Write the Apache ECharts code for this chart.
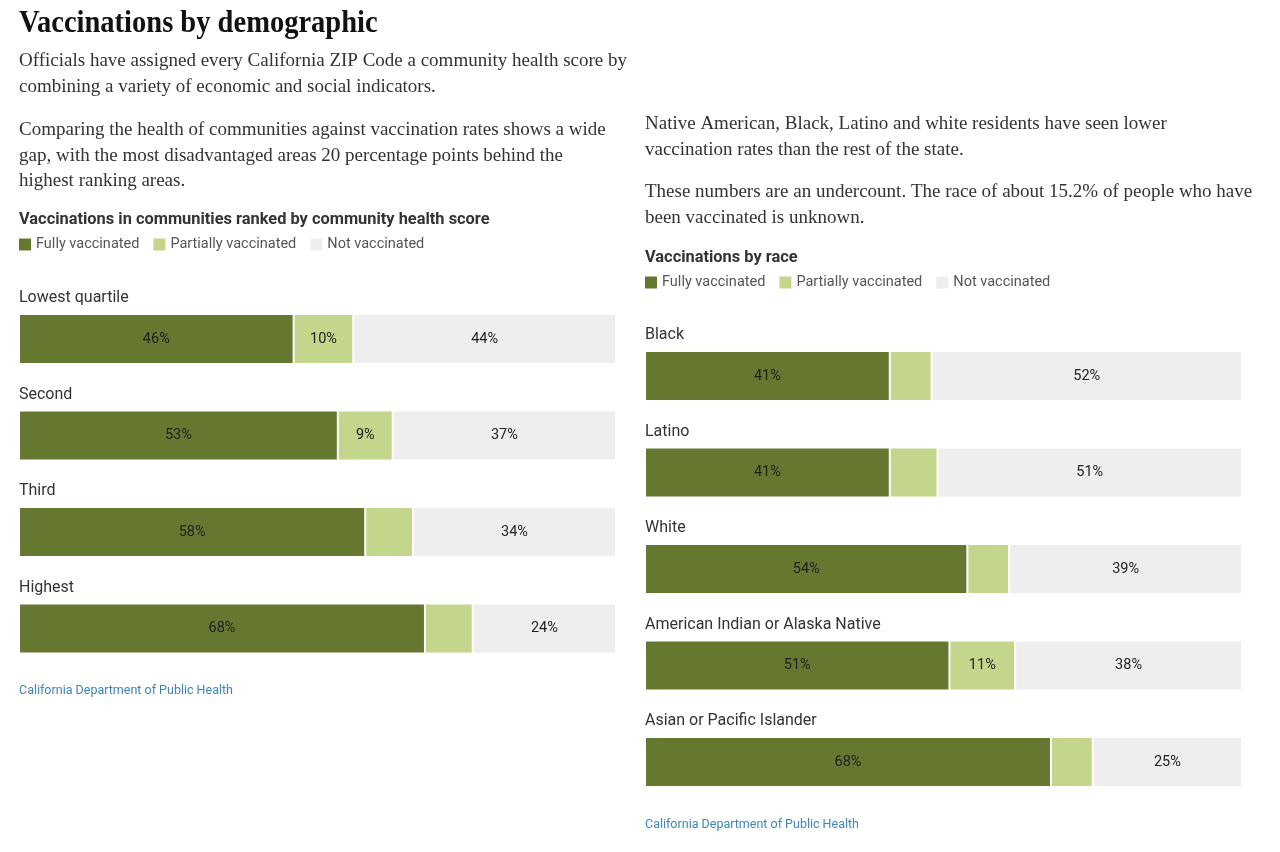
<!DOCTYPE html>
<html>
<head>
<meta charset="utf-8">
<title>Vaccinations by demographic</title>
<script src="https://cdn.jsdelivr.net/npm/echarts@6/dist/echarts.min.js"></script>
<style>
  html, body { margin: 0; padding: 0; background: #fff; }
  #main { width: 1280px; height: 852px; }
</style>
</head>
<body>
<div id="main"></div>
<script>
// data
var healthCats = ['Lowest quartile', 'Second', 'Third', 'Highest'];
var healthFully = [46, 53.4, 58, 68];
var healthPartial = [10, 9.2, 8, 8];
var healthNot = [44, 37.4, 34, 24];

var raceCats = ['Black', 'Latino', 'White', 'American Indian or Alaska Native', 'Asian or Pacific Islander'];
var raceFully = [41, 41, 54, 51, 68];
var racePartial = [7, 8, 7, 11, 7];
var raceNot = [52, 51, 39, 38, 25];

var groupNames = ['Fully vaccinated', 'Partially vaccinated', 'Not vaccinated'];
var groupColors = ['#66772f', '#c3d68b', '#eeeeee'];

window.onload = function () {
  var myChart = echarts.init(document.getElementById('main'));

  var serif = '"Liberation Serif", "DejaVu Serif", serif';
  var sans = 'Roboto, "Liberation Sans", sans-serif';

  function txt(str, x, y, size, color, weight, family, sx) {
    return {
      type: 'text', x: x, y: y + 2, scaleX: sx || 1, silent: true,
      style: {
        text: str, fill: color,
        font: (weight || 'normal') + ' ' + size + 'px ' + (family || serif),
        verticalAlign: 'middle', textVerticalAlign: 'middle'
      }
    };
  }

  // show label only when the segment is wide enough
  function pct(p) { return p.value >= 9 ? Math.round(p.value) + '%' : ''; }

  function barSeries(idx, name, data) {
    return {
      name: name, type: 'bar', stack: 'g' + idx,
      xAxisIndex: idx, yAxisIndex: idx,
      barWidth: 50, data: data,
      itemStyle: { color: groupColors[groupNames.indexOf(name)], borderColor: '#fff', borderWidth: 1 },
      label: { show: true, position: 'inside', formatter: pct, color: '#222', fontFamily: sans, fontSize: 14.5 },
      emphasis: { disabled: true }
    };
  }

  // category name sits above its bar: name line on top, empty spacer below
  function catAxis(idx, cats) {
    return {
      type: 'category', gridIndex: idx, data: cats, inverse: true, z: 10,
      axisLine: { show: false }, axisTick: { show: false },
      axisLabel: {
        inside: true, margin: 0, align: 'left', verticalAlign: 'middle', interval: 0,
        formatter: function (v) { return '{n|' + v + '}\n{s|}'; },
        rich: {
          n: { color: '#333', fontFamily: sans, fontSize: 16, height: 20, lineHeight: 20 },
          s: { height: 82, lineHeight: 82 }
        }
      }
    };
  }

  function valAxis(idx) {
    return { type: 'value', gridIndex: idx, min: 0, max: 100, show: false };
  }

  function legend(left, top) {
    return {
      left: left, top: top, data: groupNames, icon: 'rect', padding: 0,
      itemWidth: 12, itemHeight: 12, itemGap: 14, selectedMode: false,
      itemStyle: { borderWidth: 0 },
      textStyle: { color: '#555', fontFamily: sans, fontSize: 14.5 }
    };
  }

  var option = {
    animation: false,
    backgroundColor: '#fff',
    color: groupColors,
    legend: [legend(19, 237), legend(645, 275)],
    grid: [
      { left: 19, width: 597, top: 290.75, height: 386 },
      { left: 645, width: 597, top: 327.75, height: 482.5 }
    ],
    xAxis: [valAxis(0), valAxis(1)],
    yAxis: [catAxis(0, healthCats), catAxis(1, raceCats)],
    series: [
      barSeries(0, groupNames[0], healthFully),
      barSeries(0, groupNames[1], healthPartial),
      barSeries(0, groupNames[2], healthNot),
      barSeries(1, groupNames[0], raceFully),
      barSeries(1, groupNames[1], racePartial),
      barSeries(1, groupNames[2], raceNot)
    ],
    graphic: [
      txt('Vaccinations by demographic', 19, 22, 31, '#111', 'bold', serif, 0.92),
      txt('Officials have assigned every California ZIP Code a community health score by', 19, 59, 19, '#333'),
      txt('combining a variety of economic and social indicators.', 19, 85, 19, '#333'),
      txt('Comparing the health of communities against vaccination rates shows a wide', 19, 128, 19, '#333'),
      txt('gap, with the most disadvantaged areas 20 percentage points behind the', 19, 154, 19, '#333'),
      txt('highest ranking areas.', 19, 179, 19, '#333'),
      txt('Native American, Black, Latino and white residents have seen lower', 645, 122, 19, '#333'),
      txt('vaccination rates than the rest of the state.', 645, 148, 19, '#333'),
      txt('These numbers are an undercount. The race of about 15.2% of people who have', 645, 190, 19, '#333'),
      txt('been vaccinated is unknown.', 645, 216, 19, '#333'),
      txt('Vaccinations in communities ranked by community health score', 19, 218, 16.4, '#333', 'bold', sans),
      txt('Vaccinations by race', 645, 256, 16.4, '#333', 'bold', sans),
      txt('California Department of Public Health', 19, 689, 12.5, '#3b87b8', 'normal', sans),
      txt('California Department of Public Health', 645, 823, 12.5, '#3b87b8', 'normal', sans)
    ]
  };

  myChart.setOption(option);
};
</script>
</body>
</html>
